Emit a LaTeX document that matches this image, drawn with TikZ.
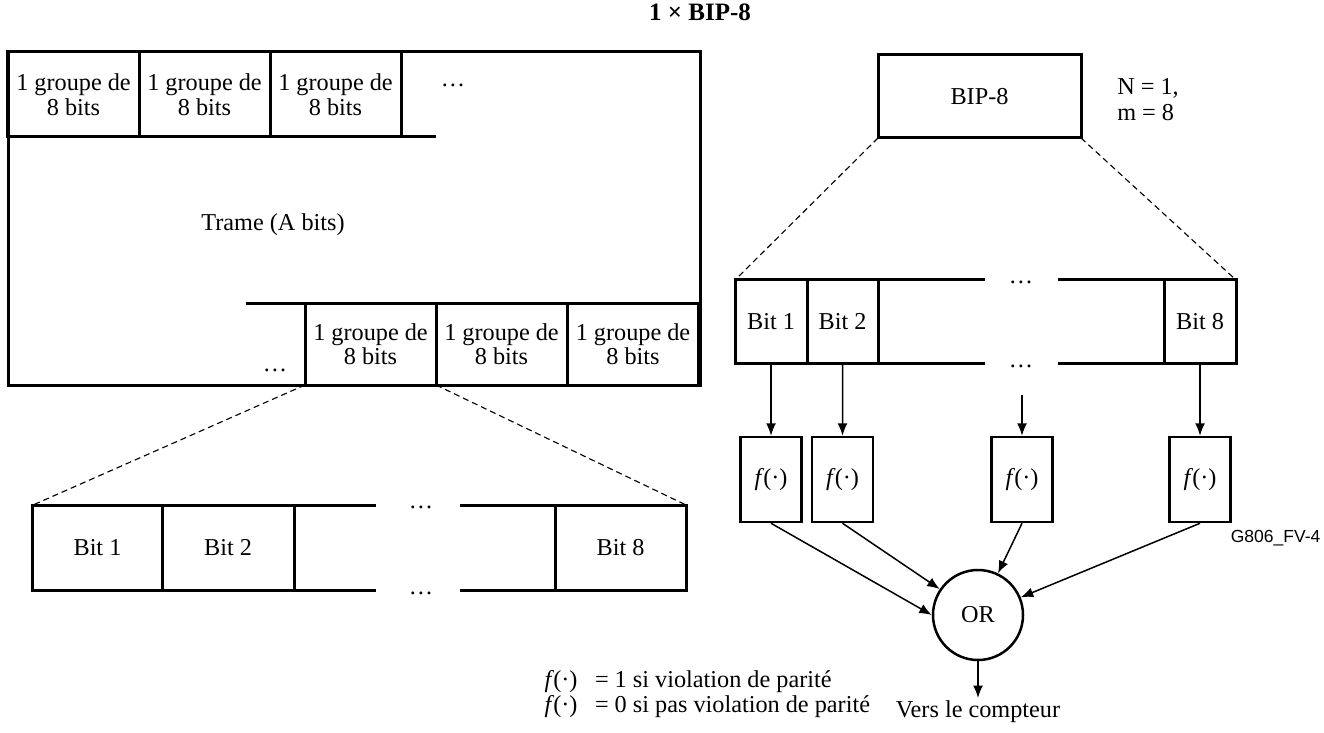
\documentclass[tikz,border=0pt]{standalone}
\usepackage{fontspec}
\setmainfont{Liberation Serif}
\setsansfont{Liberation Sans}
\usepackage{tikz}
\usetikzlibrary{arrows.meta,positioning}
\tikzset{
  thickline/.style={line width=1.2pt},
  grp/.style={draw,thickline,inner sep=0pt,outer sep=0pt,align=center,minimum width=52.4pt,font=\fontsize{9.7}{8.8}\selectfont},
  bitcell/.style={draw,thickline,inner sep=0pt,outer sep=0pt,minimum height=34pt},
  fcell/.style={draw,line width=1pt,inner sep=0pt,minimum width=24.4pt,minimum height=34pt},
  spread/.style={line width=0.45pt,dash pattern=on 2.4pt off 1.6pt},
  feed/.style={->,line width=0.6pt}
}
\newcommand{\fcdot}{\textit{f}\kern-0.3pt(·)}

\begin{document}
\begin{tikzpicture}[x=0.4pt,y=-0.4pt,>={Latex[length=5pt,width=4pt]},font=\fontsize{9.7}{12}\selectfont]
  \useasboundingbox (0,0) rectangle (1324,732);
  \node[font=\bfseries] (title) at (700,12) {1 × BIP-8};
  \draw[thickline] (8,52) rectangle (700,385);
  \foreach \x [count=\i] in {73.5,204.5,335.5}
    \node[grp,minimum height=34pt] (gt\i) at (\x,94.5) {1 groupe de\\8 bits};
  \draw[thickline] (8,137) -- (436,137);
  \node (dt) at (453,85) {…};
  \node (trame) at (273,225) {Trame (A bits)};
  \draw[thickline] (246,303) -- (700,303);
  \foreach \x [count=\i] in {370.5,501.5,633}
    \node[grp,minimum height=32.8pt] (gb\i) at (\x,344) {1 groupe de\\8 bits};
  \node (db) at (275,370) {…};
  \node[bitcell,minimum width=51.6pt] (lb1) at (97.5,547.5) {Bit 1};
  \node[bitcell,minimum width=52.8pt,right=0pt of lb1] (lb2) {Bit 2};
  \node[bitcell,minimum width=52.4pt] (lb8) at (620.5,547.5) {Bit 8};
  \draw[thickline] (lb2.north east) -- ++(82,0);
  \draw[thickline] (lb2.south east) -- ++(82,0);
  \draw[thickline] (lb8.north west) -- ++(-95,0);
  \draw[thickline] (lb8.south west) -- ++(-95,0);
  \node[anchor=base] (dl1) at (421,508) {…};
  \node[anchor=base] (dl2) at (421,594) {…};
  \draw[spread] (gb1.south west) -- (lb1.north west);
  \draw[spread] (gb1.south east) -- (lb8.north east);
  \node[draw,thickline,outer sep=0pt,minimum width=81.2pt,minimum height=33.2pt] (bip) at (979.5,96.5) {BIP-8};
  \node[align=left,font=\fontsize{9.7}{10.4}\selectfont] (nm) at (1148,100) {N = 1,\\m = 8};
  \node[bitcell,minimum width=28.8pt,minimum height=33.2pt] (rb1) at (771,321.5) {Bit 1};
  \node[bitcell,minimum width=28.4pt,minimum height=33.2pt,right=0pt of rb1] (rb2) {Bit 2};
  \node[bitcell,minimum width=28.8pt,minimum height=33.2pt] (rb8) at (1200,321.5) {Bit 8};
  \draw[thickline] (rb2.north east) -- ++(107,0);
  \draw[thickline] (rb2.south east) -- ++(107,0);
  \draw[thickline] (rb8.north west) -- ++(-106,0);
  \draw[thickline] (rb8.south west) -- ++(-106,0);
  \node[anchor=base] (dr1) at (1021,284) {…};
  \node[anchor=base] (dr2) at (1021,367) {…};
  \draw[spread] (bip.south west) -- (rb1.north west);
  \draw[spread] (bip.south east) -- (rb8.north east);
  \foreach \x [count=\i] in {771,842.5,1022,1200}
    \node[fcell] (f\i) at (\x,479.5) {\fcdot};
  \coordinate (c3) at (1022,395);
  \draw[feed] (rb1.south) -- (f1.north);
  \draw[feed] (rb2.south) -- (f2.north);
  \draw[feed] (c3) -- (f3.north);
  \draw[feed] (rb8.south) -- (f4.north);
  \node[circle,draw,line width=1pt,minimum size=36pt,inner sep=0pt] (or) at (978,615) {OR};
  \draw[feed] (f1.south) -- (or.west);
  \draw[feed] (f2.south) -- (or);
  \draw[feed] (f3.south) -- (or);
  \draw[feed] (f4.south) -- (or);
  \coordinate (out) at (978,698);
  \draw[feed] (or) -- (out);
  \node[anchor=north,inner sep=1pt] (vers) at (out) {Vers le compteur};
  \node[anchor=west,font=\sffamily\fontsize{7}{8}\selectfont] (code) at (1222,538) {G806\_FV-4};
  \node[anchor=north west,align=left,inner sep=0pt,font=\fontsize{9.7}{10}\selectfont] (leg) at (544,670)
    {\fcdot\hspace{7pt}= 1 si violation de parité\\\fcdot\hspace{7pt}= 0 si pas violation de parité};
\end{tikzpicture}
\end{document}
